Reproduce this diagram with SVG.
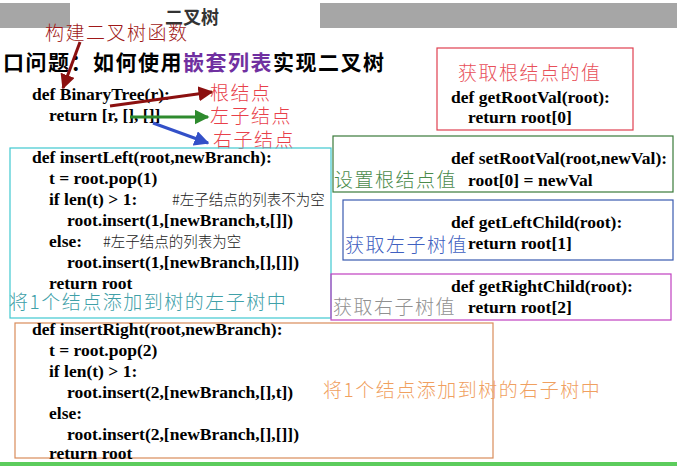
<svg xmlns="http://www.w3.org/2000/svg" width="677" height="466" viewBox="0 0 677 466">
<style>
.code{font-family:"Liberation Serif","Noto Sans CJK SC",serif;font-weight:bold;font-size:17.5px;fill:#000}
.cm{font-family:"Noto Sans CJK SC",sans-serif;font-weight:300;font-size:14.5px;fill:#222}
.cn{font-family:"Noto Sans CJK SC",sans-serif;font-weight:300;font-size:19px;letter-spacing:1.5px}
.box{fill:none;stroke-width:1.2}
</style>
<defs>
<marker id="ar" viewBox="0 0 10 10" refX="9" refY="5" markerWidth="5" markerHeight="5" orient="auto"><path d="M0,0L10,5L0,10z" fill="#8b1010"/></marker>
<marker id="ag" viewBox="0 0 10 10" refX="9" refY="5" markerWidth="5" markerHeight="5" orient="auto"><path d="M0,0L10,5L0,10z" fill="#2e8b2e"/></marker>
<marker id="ab" viewBox="0 0 10 10" refX="9" refY="5" markerWidth="5" markerHeight="5" orient="auto"><path d="M0,0L10,5L0,10z" fill="#3350c8"/></marker>
</defs>
<rect width="677" height="466" fill="#fff"/>
<g id="header">
<rect x="0" y="3" width="70" height="25" fill="#a6a6a6"/>
<rect x="320" y="3" width="357" height="25" fill="#a6a6a6"/>
<text x="165" y="24" font-family="Noto Sans CJK SC,sans-serif" font-weight="bold" font-size="18" fill="#333">二叉树</text>
<text x="3" y="70" font-family="Noto Sans CJK SC,sans-serif" font-weight="bold" font-size="21" letter-spacing="1.5" fill="#000">口问题：如何使用<tspan fill="#7030a0">嵌套列表</tspan>实现二叉树</text>
<rect x="0" y="462" width="677" height="4" fill="#5ccc5c"/>
</g>
<g id="binarytree">
<text class="cn" x="45" y="40" fill="#a01818">构建二叉树函数</text>
<text class="code" x="32" y="100">def BinaryTree(r):</text>
<text class="code" x="49" y="121">return [r, [], []]</text>
<text class="cn" x="210" y="100" fill="#e8404a">根结点</text>
<text class="cn" x="210" y="123" fill="#e8404a">左子结点</text>
<text class="cn" x="213" y="147" fill="#e8404a">右子结点</text>
</g>
<g id="insertLeft">
<rect class="box" x="10" y="148" width="321" height="170" stroke="#40c8d0"/>
<text class="code" x="32" y="163">def insertLeft(root,newBranch):</text>
<text class="code" x="49" y="184">t = root.pop(1)</text>
<text class="code" x="49" y="205">if len(t) &gt; 1:</text>
<text class="cm" x="172" y="205">#左子结点的列表不为空</text>
<text class="code" x="67" y="226">root.insert(1,[newBranch,t,[]])</text>
<text class="code" x="49" y="247">else:</text>
<text class="cm" x="103" y="247">#左子结点的列表为空</text>
<text class="code" x="67" y="268">root.insert(1,[newBranch,[],[]])</text>
<text class="code" x="49" y="289">return root</text>
<text class="cn" x="9" y="309" fill="#40a0a8">将1个结点添加到树的左子树中</text>
</g>
<g id="getRootVal">
<rect class="box" x="437" y="48" width="196" height="82" stroke="#e04050"/>
<text class="cn" x="458" y="80" fill="#e8505a">获取根结点的值</text>
<text class="code" x="451" y="103">def getRootVal(root):</text>
<text class="code" x="468" y="123">return root[0]</text>
</g>
<g id="setRootVal">
<rect class="box" x="333" y="136" width="340" height="56" stroke="#3a7a3a"/>
<text class="code" x="451" y="164">def setRootVal(root,newVal):</text>
<text class="cn" x="334" y="187" fill="#4a8a4a">设置根结点值</text>
<text class="code" x="468" y="186">root[0] = newVal</text>
</g>
<g id="getLeftChild">
<rect class="box" x="343" y="200" width="330" height="60" stroke="#3a5ab0"/>
<text class="code" x="451" y="228">def getLeftChild(root):</text>
<text class="cn" x="345" y="252" fill="#4060c0">获取左子树值</text>
<text class="code" x="468" y="249">return root[1]</text>
</g>
<g id="getRightChild">
<rect class="box" x="331" y="274" width="340" height="46" stroke="#c040c0"/>
<text class="code" x="451" y="292">def getRightChild(root):</text>
<text class="cn" x="333" y="314" fill="#909090">获取右子树值</text>
<text class="code" x="468" y="313">return root[2]</text>
</g>
<g id="insertRight">
<rect class="box" x="15" y="323" width="478" height="135" stroke="#d98c5a"/>
<text class="code" x="32" y="335">def insertRight(root,newBranch):</text>
<text class="code" x="49" y="356">t = root.pop(2)</text>
<text class="code" x="49" y="377">if len(t) &gt; 1:</text>
<text class="code" x="67" y="398">root.insert(2,[newBranch,[],t])</text>
<text class="code" x="49" y="419">else:</text>
<text class="code" x="67" y="440">root.insert(2,[newBranch,[],[]])</text>
<text class="code" x="49" y="459">return root</text>
<text class="cn" x="323" y="397" fill="#f0a060">将1个结点添加到树的右子树中</text>
</g>
<g id="connectors" fill="none" stroke-width="3">
<line x1="80" y1="42" x2="63" y2="88" stroke="#8b1010" marker-end="url(#ar)"/>
<line x1="110" y1="106" x2="212" y2="92" stroke="#8b1010" marker-end="url(#ar)"/>
<line x1="130" y1="117" x2="208" y2="117" stroke="#2e8b2e" marker-end="url(#ag)"/>
<line x1="153" y1="123" x2="208" y2="143" stroke="#3350c8" marker-end="url(#ab)"/>
</g>
</svg>
